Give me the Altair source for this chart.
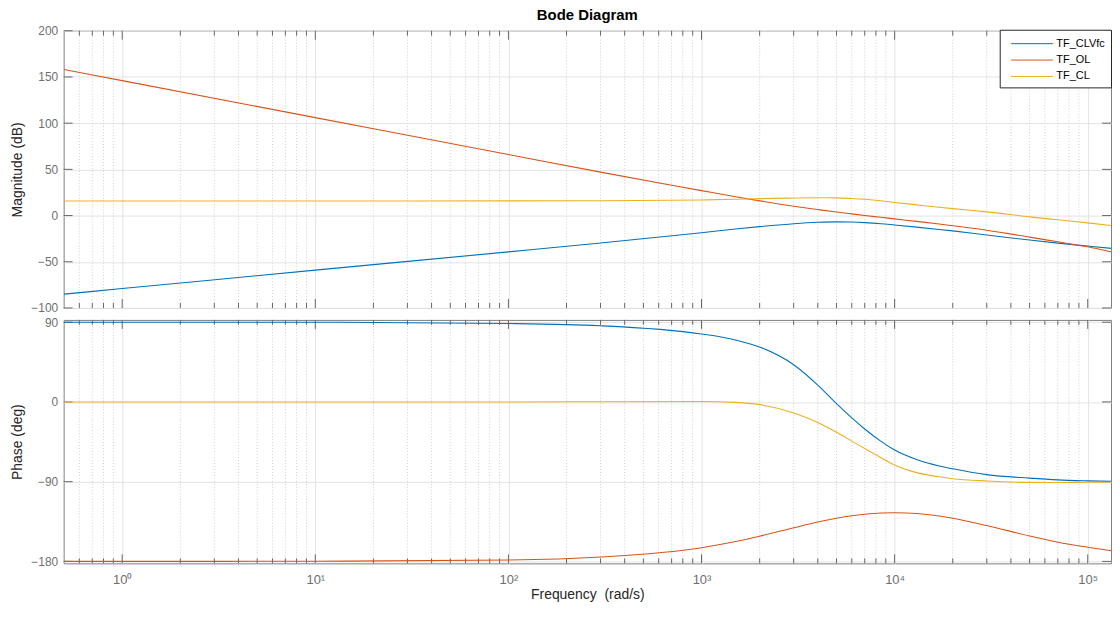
import altair as alt
import pandas as pd

# ---------------- data ----------------
series_names = ["TF_CLVfc", "TF_OL", "TF_CL"]
series_colors = ["#0072BD", "#D95319", "#EDB120"]

freq = [0.5, 1, 10, 100, 300, 1000, 1500, 2000, 3000, 4000, 5000, 6000, 7000,
        8500, 10000, 13000, 17000, 20000, 30000, 50000, 70000, 100000, 132800]

mag_clvfc = [-85, -79, -59, -39.3, -29.7, -18.5, -14.5, -12, -8.8, -7.3, -6.8, -7.0, -7.6,
             -8.8, -10.2, -12.5, -15, -16.6, -21, -26.5, -29.8, -33, -35.5]
mag_ol = [158, 146, 106, 66, 47, 27, 20.3, 15.9, 10.1, 6.5, 3.8, 1.8, 0.1,
          -1.9, -3.6, -6.3, -9.1, -11, -15.8, -23.3, -28.4, -33.8, -39.5]
mag_cl = [15.8, 15.8, 15.8, 15.9, 16.1, 16.9, 17.6, 18.3, 19, 19.3, 19.2, 18.5, 17.6,
          16, 14.2, 11.6, 9, 7.5, 4, -1.4, -4.6, -7.9, -10.8]

ph_clvfc = [90, 90, 90, 88.5, 86, 76.7, 70, 62, 42, 19, -2, -18, -30.5,
            -44.5, -54.3, -65, -72.3, -75.5, -82, -86, -88, -89.1, -89.7]
ph_ol = [-180, -180, -179.8, -178.4, -175, -164.5, -157.5, -151.5, -142, -135.5, -131.3, -128.5, -126.8,
         -125.4, -125.1, -126, -128.8, -131.3, -139.5, -151.3, -158.3, -164, -168]
ph_cl = [0, 0, 0, 0, 0.3, 0.5, -0.5, -3, -12.5, -23.1, -34.3, -44.2, -52.6,
         -63.1, -71.2, -79.8, -84.5, -86.6, -89.2, -90.8, -91, -90.6, -90.3]

major_freq = [1, 10, 100, 1000, 10000, 100000]
minor_freq = [0.6, 0.7, 0.8, 0.9,
              2, 3, 4, 5, 6, 7, 8, 9,
              20, 30, 40, 50, 60, 70, 80, 90,
              200, 300, 400, 500, 600, 700, 800, 900,
              2000, 3000, 4000, 5000, 6000, 7000, 8000, 9000,
              20000, 30000, 40000, 50000, 60000, 70000, 80000, 90000]
mag_ticks = [-100, -50, 0, 50, 100, 150, 200]
ph_ticks = [-180, -90, 0, 90]

# ---------------- layout / style ----------------
FONT = "Liberation Sans"
W = 1054
H_MAG = 279
H_PH = 245
X_DOMAIN = [0.4975, 132000]
MAG_DOMAIN = [-100, 200]
PH_DOMAIN = [-182.2, 92.6]
TICK_COLOR = "#666666"
MINOR_GRID = "#cfcfcf"


def long_df(arrs):
    rows = []
    for name, vals in zip(series_names, arrs):
        for f, v in zip(freq, vals):
            rows.append({"freq": f, "value": v, "series": name})
    return pd.DataFrame(rows)


mag_df = long_df([mag_clvfc, mag_ol, mag_cl])
ph_df = long_df([ph_clvfc, ph_ol, ph_cl])
major_df = pd.DataFrame({"freq": major_freq})
minor_df = pd.DataFrame({"freq": minor_freq})

color_scale = alt.Scale(domain=series_names, range=series_colors)


def panel(df, yticks, ydomain, height, ytitle, xaxis, legend, title=None):
    xscale = alt.Scale(type="log", domain=X_DOMAIN, nice=False)
    yscale = alt.Scale(domain=ydomain, nice=False, zero=False)
    yaxis = alt.Axis(
        values=yticks, ticks=False, tickSize=0, domain=False, grid=True,
        labelPadding=6, labelFontSize=12, minExtent=32, maxExtent=32,
        title=ytitle, titleFontSize=14, titlePadding=7)
    X = alt.X("freq:Q", scale=xscale, axis=xaxis)
    Y = alt.Y("value:Q", scale=yscale, axis=yaxis)
    ytick_df = pd.DataFrame({"value": yticks})

    minor_grid = alt.Chart(minor_df).mark_rule(
        color=MINOR_GRID, strokeDash=[1, 2], strokeWidth=1
    ).encode(x=X)

    layers = [minor_grid]
    for data, L in [(major_df, 9), (minor_df, 5)]:
        layers.append(alt.Chart(data).mark_rule(color=TICK_COLOR, strokeWidth=1).encode(
            x=X, y=alt.value(0), y2=alt.value(L)))
        layers.append(alt.Chart(data).mark_rule(color=TICK_COLOR, strokeWidth=1).encode(
            x=X, y=alt.value(height), y2=alt.value(height - L)))
    layers.append(alt.Chart(ytick_df).mark_rule(color=TICK_COLOR, strokeWidth=1).encode(
        y=Y, x=alt.value(0), x2=alt.value(9)))
    layers.append(alt.Chart(ytick_df).mark_rule(color=TICK_COLOR, strokeWidth=1).encode(
        y=Y, x=alt.value(W - 9), x2=alt.value(W)))

    lines = alt.Chart(df).mark_line(strokeWidth=1.1, clip=True, interpolate="monotone").encode(
        x=X,
        y=Y,
        color=alt.Color("series:N", scale=color_scale, legend=legend),
        order=alt.Order("freq:Q"),
        detail="series:N",
    )
    layers.append(lines)
    props = dict(width=W, height=height)
    if title is not None:
        props["title"] = title
    return alt.layer(*layers).properties(**props)


top_xaxis = alt.Axis(values=major_freq, grid=True, labels=False, ticks=False, tickSize=0,
                     domain=False, title=None, minExtent=0, maxExtent=0, labelPadding=0)
bottom_xaxis = alt.Axis(
    values=major_freq, grid=True, ticks=False, tickSize=0, domain=False,
    labelExpr="'10' + ['⁰','¹','²','³','⁴','⁵'][round(log(datum.value)/LN10)]",
    labelPadding=10, labelFontSize=13, labelFlush=False, labelOverlap=False,
    title="Frequency \u00a0(rad/s)", titleFontSize=14, titlePadding=1,
)

legend = alt.Legend(
    orient="none", legendX=942, legendY=-1, title=None,
    symbolType="M-0.33,0H5.27", symbolSize=225, symbolStrokeWidth=1,
    labelOffset=35, labelFontSize=11, labelColor="#000000", labelFont=FONT,
    rowPadding=3.5, padding=6, strokeColor="#262626", fillColor="#ffffff", labelLimit=200,
)

title = alt.TitleParams("Bode Diagram", fontSize=15, fontWeight="bold", anchor="middle",
                        frame="group", offset=2, color="#000000", font=FONT)

top = panel(mag_df, mag_ticks, MAG_DOMAIN, H_MAG, "Magnitude (dB)", top_xaxis, legend, title)
bottom = panel(ph_df, ph_ticks, PH_DOMAIN, H_PH, "Phase (deg)", bottom_xaxis, None)

chart = alt.vconcat(top, bottom, spacing=0).resolve_scale(color="independent").resolve_legend(
    color="independent"
).properties(
    padding={"left": 2, "top": -3, "right": 0, "bottom": 0}
).configure_view(
    stroke="#7f7f7f", strokeWidth=1
).configure_axis(
    labelFont=FONT, titleFont=FONT, gridColor="#e3e3e3", gridWidth=1,
    labelColor="#6e6e6e", titleColor="#262626", titleFontWeight="normal"
)

chart.save("out.html", embed_options={"renderer": "svg", "actions": False})
